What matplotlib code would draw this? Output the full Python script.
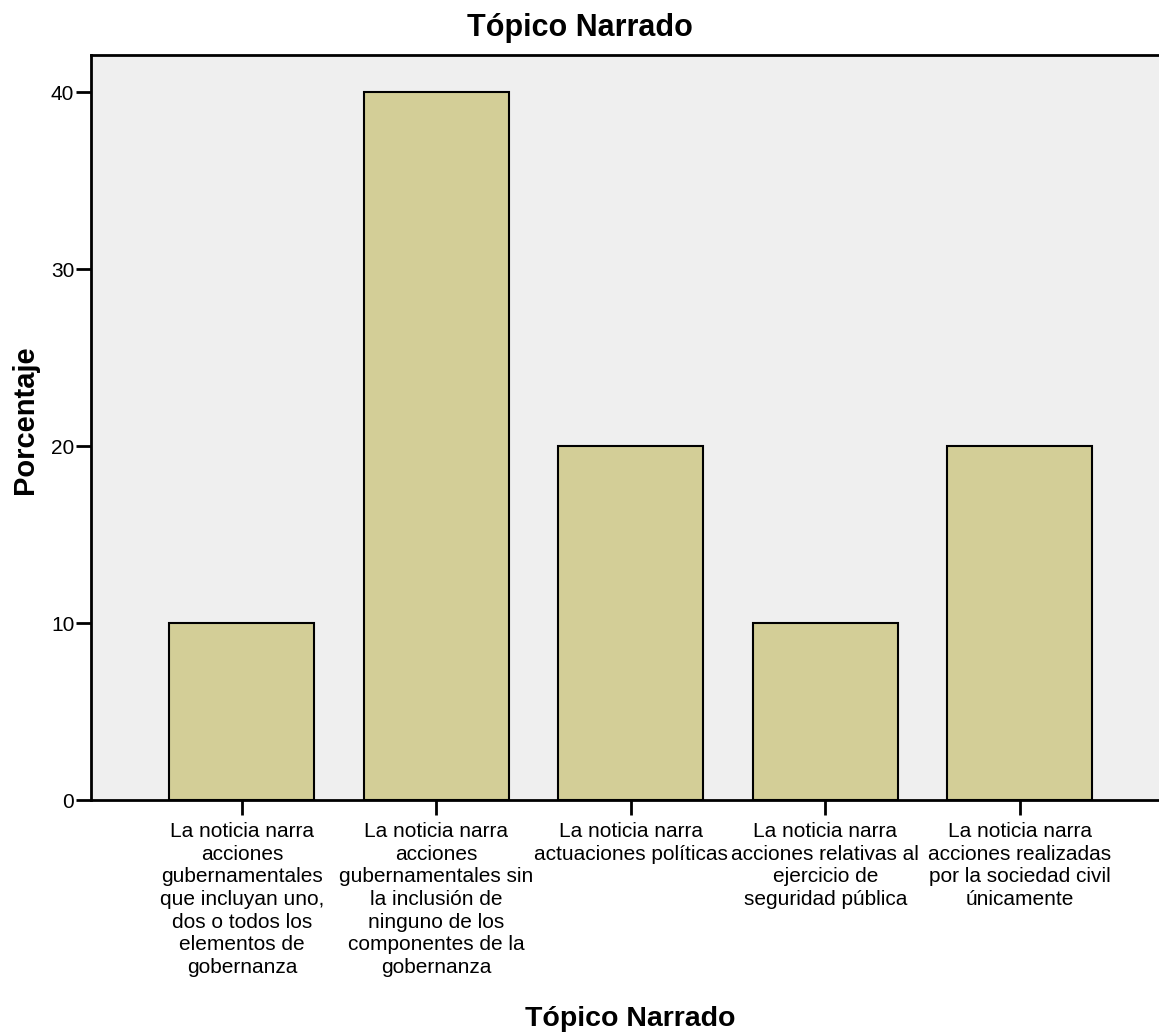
import matplotlib.pyplot as plt
import numpy as np

plt.rcParams['font.family'] = ['Liberation Sans', 'DejaVu Sans']

categories = [
    "La noticia narra\nacciones\ngubernamentales\nque incluyan uno,\ndos o todos los\nelementos de\ngobernanza",
    "La noticia narra\nacciones\ngubernamentales sin\nla inclusión de\nninguno de los\ncomponentes de la\ngobernanza",
    "La noticia narra\nactuaciones políticas",
    "La noticia narra\nacciones relativas al\nejercicio de\nseguridad pública",
    "La noticia narra\nacciones realizadas\npor la sociedad civil\núnicamente",
]
percentages = [10, 40, 20, 10, 20]
yticks = [0, 10, 20, 30, 40]

fig = plt.figure(figsize=(11.59, 10.36), dpi=100)
ax = fig.add_axes([91 / 1159, 1 - 800 / 1036, 1 - 91 / 1159, (800 - 55) / 1036])
ax.set_facecolor('#EFEFEF')

x = np.arange(len(categories))
ax.bar(x, percentages, width=0.745, color='#D3CE97', edgecolor='black', linewidth=1.5, zorder=2)

ax.set_xlim(-0.776, 4.715)
ax.set_ylim(0, 42.1)
ax.set_yticks(yticks)
ax.set_xticks(x)
ax.set_xticklabels(categories, fontsize=15, linespacing=1.24, va='top')

for s in ['left', 'bottom', 'top']:
    ax.spines[s].set_linewidth(2)
ax.spines['right'].set_visible(False)
ax.tick_params(axis='both', direction='out', length=11, width=2, labelsize=15, pad=1)
ax.tick_params(axis='x', pad=5)

# titles placed on the figure, like the SPSS export
fig.text(0.5, 1 - 28 / 1036, 'Tópico Narrado', fontsize=22, fontweight='bold',
         ha='center', va='center')
fig.text(25 / 1159, 1 - 420 / 1036, 'Porcentaje', fontsize=21, fontweight='bold',
         rotation=90, ha='center', va='center')
fig.text(630 / 1159, 1 - 1019 / 1036, 'Tópico Narrado', fontsize=20.5, fontweight='bold',
         ha='center', va='center')

fig.savefig('out.png', dpi=100)
